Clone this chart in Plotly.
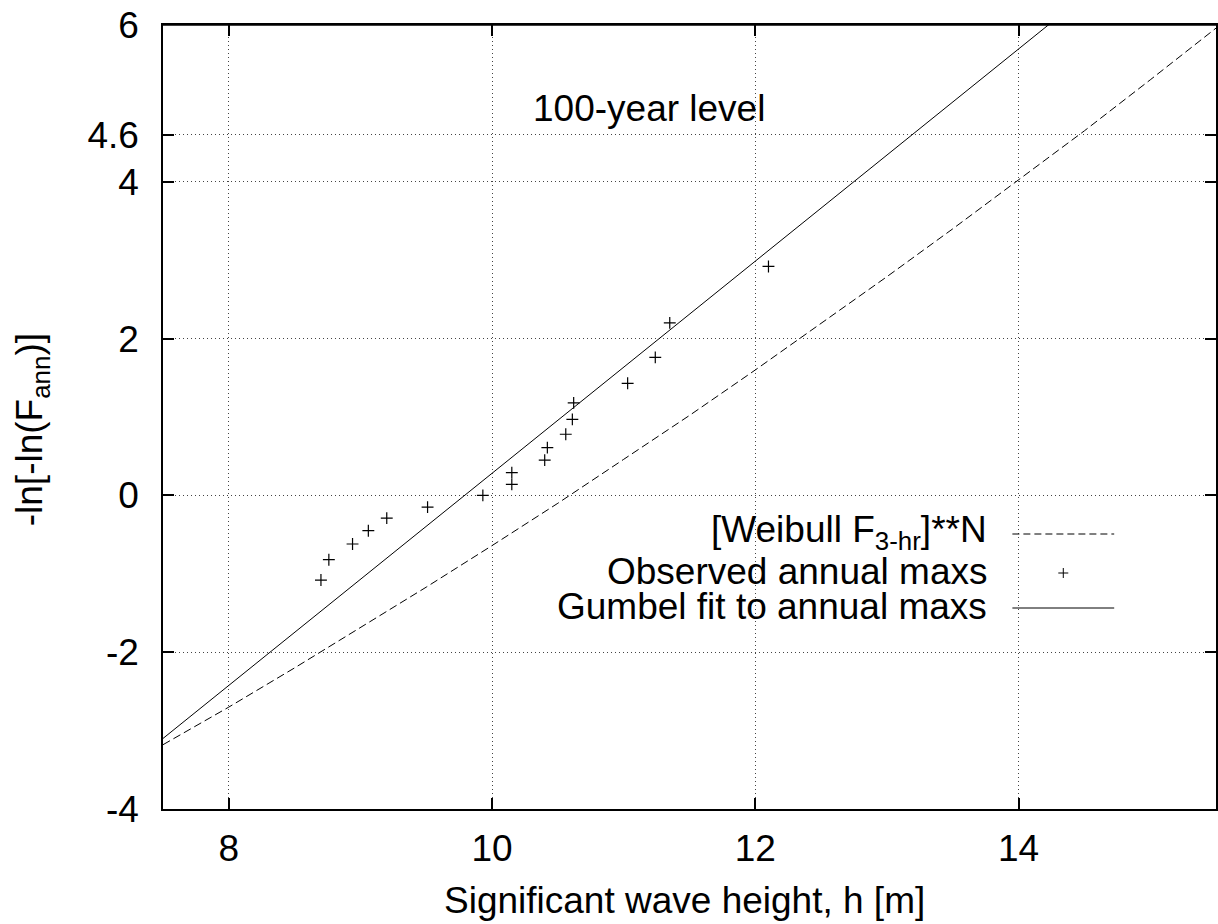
import plotly.graph_objects as go

# ---- data ----
obs_x = [8.70, 8.76, 8.94, 9.06, 9.20, 9.51, 9.93, 10.15, 10.15, 10.40, 10.42,
         10.56, 10.61, 10.62, 11.03, 11.24, 11.35, 12.10]
obs_y = [-1.08, -0.82, -0.62, -0.45, -0.29, -0.15, 0.00, 0.14, 0.29, 0.45, 0.61,
         0.78, 0.97, 1.18, 1.43, 1.76, 2.20, 2.92]

gumbel_x = [7.5, 14.30]
gumbel_y = [-3.10, 6.10]

weibull_x = [7.5, 8.0, 8.5, 9.0, 9.5, 10.0, 10.5, 11.0, 11.5, 12.0, 12.5, 13.0,
             13.5, 14.0, 14.5, 15.0, 15.5]
weibull_y = [-3.18, -2.70, -2.20, -1.69, -1.17, -0.64, -0.10, 0.46, 1.02, 1.60,
             2.19, 2.79, 3.40, 4.02, 4.65, 5.30, 5.96]

x_ticks = [8, 10, 12, 14]
y_ticks = [-4, -2, 0, 2, 4, 4.6, 6]
y_tick_text = ["-4", "-2", "0", "2", "4", "4.6", "6"]

legend_labels = ["[Weibull F<sub>3-hr</sub>]**N", "Observed annual maxs",
                 "Gumbel fit to annual maxs"]

# ---- layout geometry (body margin removed by post_script) ----
W, H = 1218, 924
PL, PT, PR, PB = 163, 25, 1218, 809          # plot area in page pixels
L, T, R, B = PL, PT, W - PR, H - PB
PW, PH = PR - PL, PB - PT
FONT = "Liberation Sans, Arial, Helvetica, sans-serif"
FS = 37


def px(xp):
    return (xp - PL) / PW


def py(yp):
    return (PB - yp) / PH


fig = go.Figure()

fig.add_trace(go.Scatter(x=weibull_x, y=weibull_y, mode="lines",
                         line=dict(color="black", width=1, dash="8px,4px"),
                         showlegend=False, hoverinfo="skip"))
fig.add_trace(go.Scatter(x=obs_x, y=obs_y, mode="markers",
                         marker=dict(symbol="cross-thin", size=8.5, color="black",
                                     line=dict(color="black", width=1.2)),
                         showlegend=False))
fig.add_trace(go.Scatter(x=gumbel_x, y=gumbel_y, mode="lines",
                         line=dict(color="black", width=1),
                         showlegend=False, hoverinfo="skip"))

shapes = []
# opaque key box (hides grid but not data)
shapes.append(dict(type="rect", xref="paper", yref="paper",
                   x0=px(485), x1=px(1135), y0=py(628), y1=py(515),
                   fillcolor="white", line=dict(width=0), layer="between"))
# top frame edge
shapes.append(dict(type="line", xref="paper", yref="paper",
                   x0=0, x1=1, y0=1, y1=1,
                   line=dict(color="black", width=1.5), layer="above"))
# key samples
row_y = [534, 573, 608]
sx0, sx1 = 1014, 1116
shapes.append(dict(type="line", xref="paper", yref="paper",
                   x0=px(sx0), x1=px(sx1), y0=py(row_y[0]), y1=py(row_y[0]),
                   line=dict(color="black", width=1, dash="7px,4px")))
cx = (sx0 + sx1) / 2
shapes.append(dict(type="line", xref="paper", yref="paper",
                   x0=px(cx - 5), x1=px(cx + 5), y0=py(row_y[1]), y1=py(row_y[1]),
                   line=dict(color="black", width=1)))
shapes.append(dict(type="line", xref="paper", yref="paper",
                   x0=px(cx), x1=px(cx), y0=py(row_y[1] - 5), y1=py(row_y[1] + 5),
                   line=dict(color="black", width=1)))
shapes.append(dict(type="line", xref="paper", yref="paper",
                   x0=px(sx0), x1=px(sx1), y0=py(row_y[2]), y1=py(row_y[2]),
                   line=dict(color="black", width=1)))

annotations = []
for lab, ry in zip(legend_labels, row_y):
    annotations.append(dict(text=lab, xref="paper", yref="paper",
                            x=px(991), y=py(ry - 2), xanchor="right", yanchor="middle",
                            showarrow=False, font=dict(family=FONT, size=FS, color="black")))
annotations.append(dict(text="100-year level", xref="paper", yref="paper",
                        x=px(650), y=py(109), xanchor="center", yanchor="middle",
                        showarrow=False, font=dict(family=FONT, size=FS, color="black")))
annotations.append(dict(text="Significant wave height, h [m]", xref="paper", yref="paper",
                        x=px(685), y=py(900), xanchor="center", yanchor="middle",
                        showarrow=False, font=dict(family=FONT, size=FS, color="black")))
annotations.append(dict(text="-ln[-ln(F<sub>ann</sub>)]", xref="paper", yref="paper",
                        x=px(32), y=py(430), xanchor="center", yanchor="middle",
                        textangle=-90,
                        showarrow=False, font=dict(family=FONT, size=FS, color="black")))

axis_common = dict(showline=True, linecolor="black", linewidth=1.5, mirror="ticks",
                   ticks="inside", ticklen=11, tickwidth=1.5, tickcolor="black",
                   showgrid=True, gridcolor="#444444", gridwidth=1, griddash="1px,3px",
                   zeroline=False, ticklabeloverflow="allow",
                   tickfont=dict(family=FONT, size=FS, color="black"))

fig.update_layout(
    width=W, height=H,
    margin=dict(l=L, r=R, t=T, b=B, pad=0),
    paper_bgcolor="white", plot_bgcolor="white",
    xaxis=dict(range=[7.5, 15.5], tickvals=x_ticks, ticklabelstandoff=6, **axis_common),
    yaxis=dict(range=[-4, 6], tickvals=y_ticks, ticktext=y_tick_text,
               ticklabelstandoff=15, **axis_common),
    shapes=shapes, annotations=annotations, showlegend=False,
)

fig.write_html("out.html", config={"displayModeBar": False},
               post_script="document.body.style.margin='0';document.body.style.overflow='hidden';")
